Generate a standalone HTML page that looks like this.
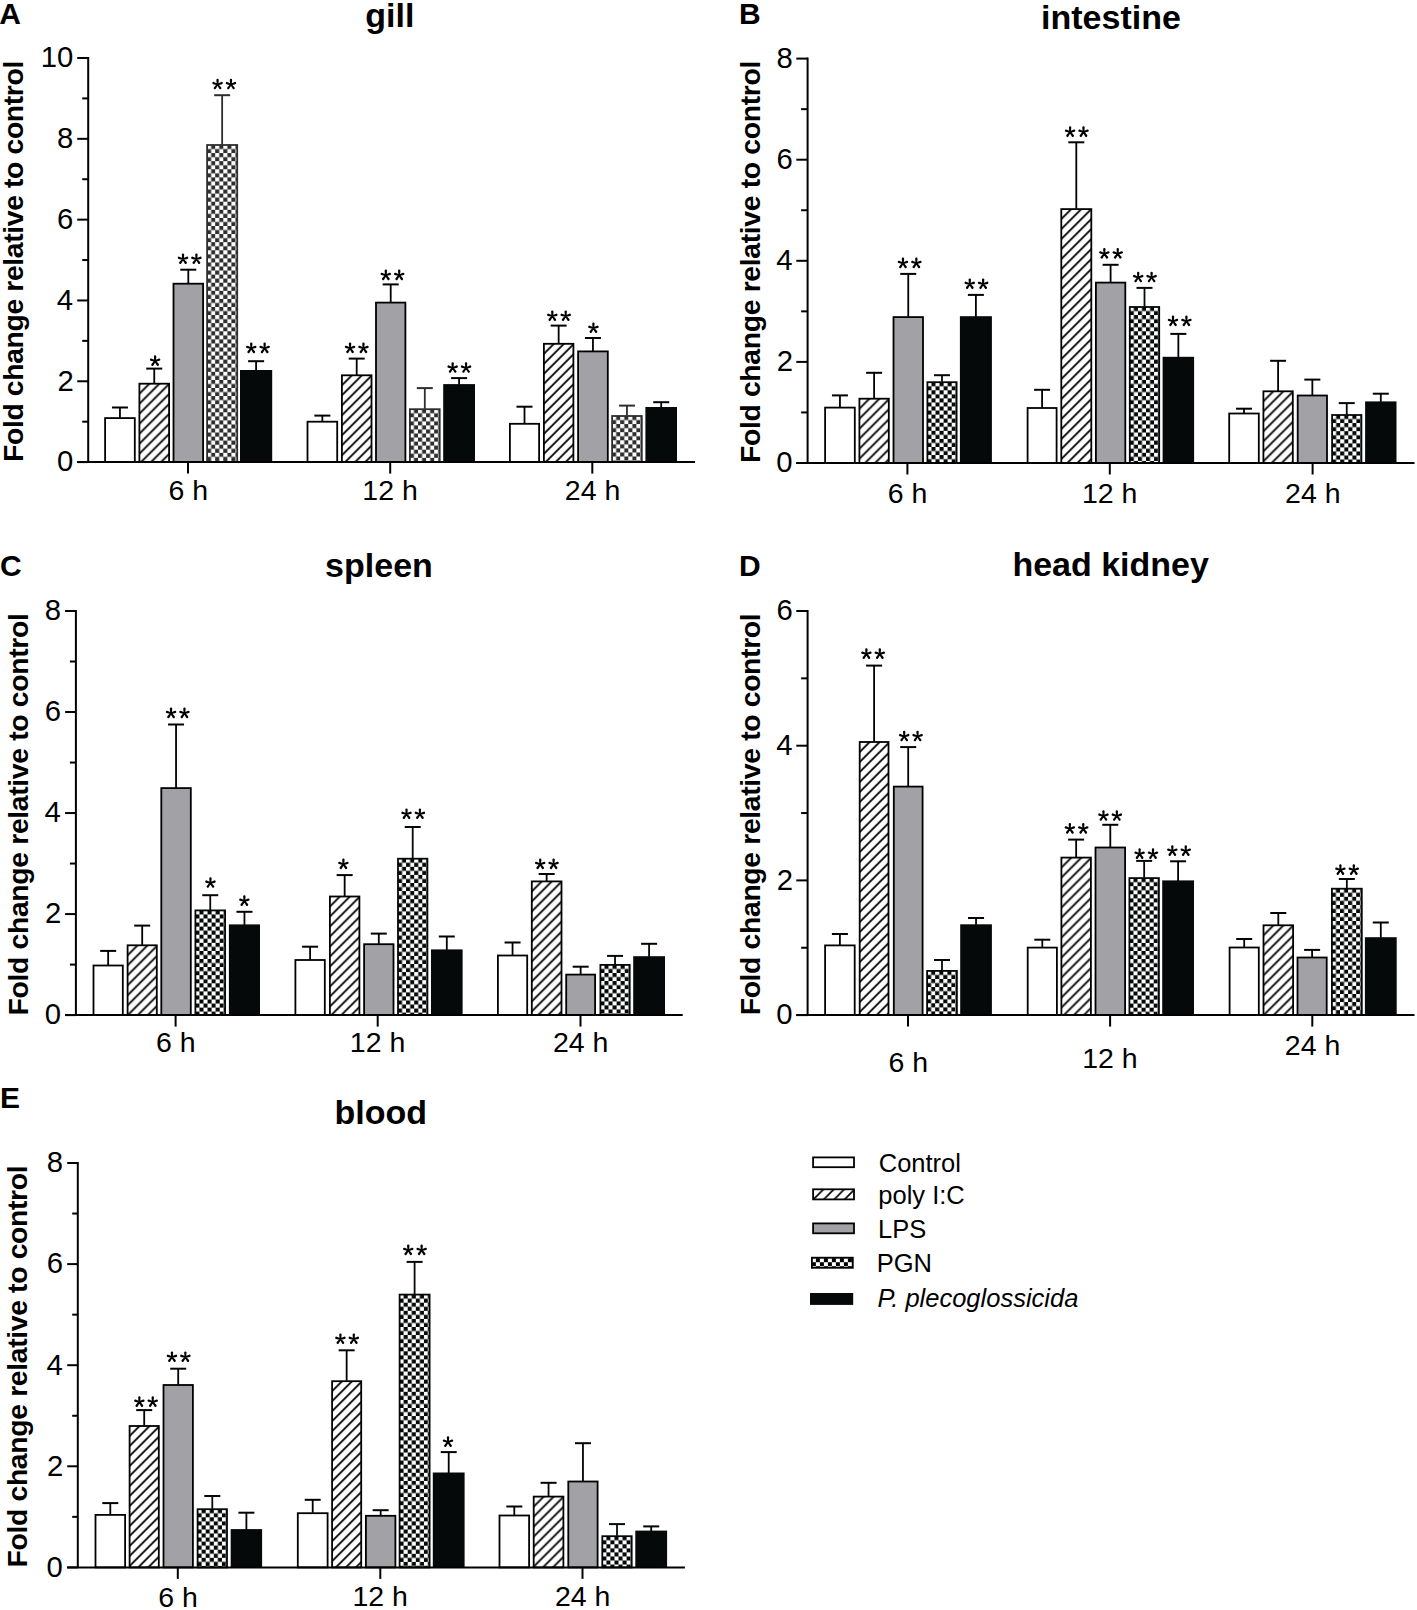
<!DOCTYPE html>
<html><head><meta charset="utf-8"><style>
html,body{margin:0;padding:0;background:#fff;}
body{width:1417px;height:1610px;overflow:hidden;}
svg{display:block;font-family:"Liberation Sans",sans-serif;}
</style></head><body>
<svg width="1417" height="1610" viewBox="0 0 1417 1610">
<defs>
<pattern id="h1" patternUnits="userSpaceOnUse" x="139.40" y="383.70" width="10.0" height="10.0"><path d="M-5.0,5.0 L5.0,-5.0 M0,10.0 L10.0,0 M5.0,15.0 L15.0,5.0" stroke="#000" stroke-width="1.8"/></pattern>
<pattern id="c2" patternUnits="userSpaceOnUse" x="207.10" y="145.00" width="8.1" height="8.1"><rect width="8.1" height="8.1" fill="#fff"/><rect x="4.05" y="0" width="4.05" height="4.05" fill="#2e2e2e"/><rect x="0" y="4.05" width="4.05" height="4.05" fill="#2e2e2e"/></pattern>
<pattern id="h3" patternUnits="userSpaceOnUse" x="341.90" y="375.30" width="10.0" height="10.0"><path d="M-5.0,5.0 L5.0,-5.0 M0,10.0 L10.0,0 M5.0,15.0 L15.0,5.0" stroke="#000" stroke-width="1.8"/></pattern>
<pattern id="c4" patternUnits="userSpaceOnUse" x="409.90" y="409.20" width="8.1" height="8.1"><rect width="8.1" height="8.1" fill="#fff"/><rect x="4.05" y="0" width="4.05" height="4.05" fill="#2e2e2e"/><rect x="0" y="4.05" width="4.05" height="4.05" fill="#2e2e2e"/></pattern>
<pattern id="h5" patternUnits="userSpaceOnUse" x="543.90" y="343.80" width="10.0" height="10.0"><path d="M-5.0,5.0 L5.0,-5.0 M0,10.0 L10.0,0 M5.0,15.0 L15.0,5.0" stroke="#000" stroke-width="1.8"/></pattern>
<pattern id="c6" patternUnits="userSpaceOnUse" x="612.10" y="416.00" width="8.1" height="8.1"><rect width="8.1" height="8.1" fill="#fff"/><rect x="4.05" y="0" width="4.05" height="4.05" fill="#2e2e2e"/><rect x="0" y="4.05" width="4.05" height="4.05" fill="#2e2e2e"/></pattern>
<pattern id="h7" patternUnits="userSpaceOnUse" x="859.40" y="398.70" width="10.0" height="10.0"><path d="M-5.0,5.0 L5.0,-5.0 M0,10.0 L10.0,0 M5.0,15.0 L15.0,5.0" stroke="#000" stroke-width="1.8"/></pattern>
<pattern id="c8" patternUnits="userSpaceOnUse" x="927.40" y="382.20" width="8.1" height="8.1"><rect width="8.1" height="8.1" fill="#fff"/><rect x="4.05" y="0" width="4.05" height="4.05" fill="#050808"/><rect x="0" y="4.05" width="4.05" height="4.05" fill="#050808"/></pattern>
<pattern id="h9" patternUnits="userSpaceOnUse" x="1061.30" y="209.10" width="10.0" height="10.0"><path d="M-5.0,5.0 L5.0,-5.0 M0,10.0 L10.0,0 M5.0,15.0 L15.0,5.0" stroke="#000" stroke-width="1.8"/></pattern>
<pattern id="c10" patternUnits="userSpaceOnUse" x="1129.80" y="307.00" width="8.1" height="8.1"><rect width="8.1" height="8.1" fill="#fff"/><rect x="4.05" y="0" width="4.05" height="4.05" fill="#050808"/><rect x="0" y="4.05" width="4.05" height="4.05" fill="#050808"/></pattern>
<pattern id="h11" patternUnits="userSpaceOnUse" x="1263.40" y="391.30" width="10.0" height="10.0"><path d="M-5.0,5.0 L5.0,-5.0 M0,10.0 L10.0,0 M5.0,15.0 L15.0,5.0" stroke="#000" stroke-width="1.8"/></pattern>
<pattern id="c12" patternUnits="userSpaceOnUse" x="1332.10" y="415.00" width="8.1" height="8.1"><rect width="8.1" height="8.1" fill="#fff"/><rect x="4.05" y="0" width="4.05" height="4.05" fill="#050808"/><rect x="0" y="4.05" width="4.05" height="4.05" fill="#050808"/></pattern>
<pattern id="h13" patternUnits="userSpaceOnUse" x="127.60" y="945.30" width="10.0" height="10.0"><path d="M-5.0,5.0 L5.0,-5.0 M0,10.0 L10.0,0 M5.0,15.0 L15.0,5.0" stroke="#000" stroke-width="1.8"/></pattern>
<pattern id="c14" patternUnits="userSpaceOnUse" x="195.40" y="910.40" width="8.1" height="8.1"><rect width="8.1" height="8.1" fill="#fff"/><rect x="4.05" y="0" width="4.05" height="4.05" fill="#050808"/><rect x="0" y="4.05" width="4.05" height="4.05" fill="#050808"/></pattern>
<pattern id="h15" patternUnits="userSpaceOnUse" x="329.90" y="896.50" width="10.0" height="10.0"><path d="M-5.0,5.0 L5.0,-5.0 M0,10.0 L10.0,0 M5.0,15.0 L15.0,5.0" stroke="#000" stroke-width="1.8"/></pattern>
<pattern id="c16" patternUnits="userSpaceOnUse" x="398.00" y="858.70" width="8.1" height="8.1"><rect width="8.1" height="8.1" fill="#fff"/><rect x="4.05" y="0" width="4.05" height="4.05" fill="#050808"/><rect x="0" y="4.05" width="4.05" height="4.05" fill="#050808"/></pattern>
<pattern id="h17" patternUnits="userSpaceOnUse" x="531.80" y="881.40" width="10.0" height="10.0"><path d="M-5.0,5.0 L5.0,-5.0 M0,10.0 L10.0,0 M5.0,15.0 L15.0,5.0" stroke="#000" stroke-width="1.8"/></pattern>
<pattern id="c18" patternUnits="userSpaceOnUse" x="600.40" y="964.90" width="8.1" height="8.1"><rect width="8.1" height="8.1" fill="#fff"/><rect x="4.05" y="0" width="4.05" height="4.05" fill="#050808"/><rect x="0" y="4.05" width="4.05" height="4.05" fill="#050808"/></pattern>
<pattern id="h19" patternUnits="userSpaceOnUse" x="859.70" y="742.00" width="10.0" height="10.0"><path d="M-5.0,5.0 L5.0,-5.0 M0,10.0 L10.0,0 M5.0,15.0 L15.0,5.0" stroke="#000" stroke-width="1.8"/></pattern>
<pattern id="c20" patternUnits="userSpaceOnUse" x="927.10" y="970.90" width="8.1" height="8.1"><rect width="8.1" height="8.1" fill="#fff"/><rect x="4.05" y="0" width="4.05" height="4.05" fill="#050808"/><rect x="0" y="4.05" width="4.05" height="4.05" fill="#050808"/></pattern>
<pattern id="h21" patternUnits="userSpaceOnUse" x="1061.40" y="857.60" width="10.0" height="10.0"><path d="M-5.0,5.0 L5.0,-5.0 M0,10.0 L10.0,0 M5.0,15.0 L15.0,5.0" stroke="#000" stroke-width="1.8"/></pattern>
<pattern id="c22" patternUnits="userSpaceOnUse" x="1129.40" y="878.10" width="8.1" height="8.1"><rect width="8.1" height="8.1" fill="#fff"/><rect x="4.05" y="0" width="4.05" height="4.05" fill="#050808"/><rect x="0" y="4.05" width="4.05" height="4.05" fill="#050808"/></pattern>
<pattern id="h23" patternUnits="userSpaceOnUse" x="1263.50" y="925.30" width="10.0" height="10.0"><path d="M-5.0,5.0 L5.0,-5.0 M0,10.0 L10.0,0 M5.0,15.0 L15.0,5.0" stroke="#000" stroke-width="1.8"/></pattern>
<pattern id="c24" patternUnits="userSpaceOnUse" x="1331.90" y="888.70" width="8.1" height="8.1"><rect width="8.1" height="8.1" fill="#fff"/><rect x="4.05" y="0" width="4.05" height="4.05" fill="#050808"/><rect x="0" y="4.05" width="4.05" height="4.05" fill="#050808"/></pattern>
<pattern id="h25" patternUnits="userSpaceOnUse" x="129.60" y="1426.00" width="10.0" height="10.0"><path d="M-5.0,5.0 L5.0,-5.0 M0,10.0 L10.0,0 M5.0,15.0 L15.0,5.0" stroke="#000" stroke-width="1.8"/></pattern>
<pattern id="c26" patternUnits="userSpaceOnUse" x="197.60" y="1509.20" width="8.1" height="8.1"><rect width="8.1" height="8.1" fill="#fff"/><rect x="4.05" y="0" width="4.05" height="4.05" fill="#050808"/><rect x="0" y="4.05" width="4.05" height="4.05" fill="#050808"/></pattern>
<pattern id="h27" patternUnits="userSpaceOnUse" x="332.10" y="1381.20" width="10.0" height="10.0"><path d="M-5.0,5.0 L5.0,-5.0 M0,10.0 L10.0,0 M5.0,15.0 L15.0,5.0" stroke="#000" stroke-width="1.8"/></pattern>
<pattern id="c28" patternUnits="userSpaceOnUse" x="399.60" y="1294.60" width="8.1" height="8.1"><rect width="8.1" height="8.1" fill="#fff"/><rect x="4.05" y="0" width="4.05" height="4.05" fill="#050808"/><rect x="0" y="4.05" width="4.05" height="4.05" fill="#050808"/></pattern>
<pattern id="h29" patternUnits="userSpaceOnUse" x="533.70" y="1496.60" width="10.0" height="10.0"><path d="M-5.0,5.0 L5.0,-5.0 M0,10.0 L10.0,0 M5.0,15.0 L15.0,5.0" stroke="#000" stroke-width="1.8"/></pattern>
<pattern id="c30" patternUnits="userSpaceOnUse" x="602.30" y="1536.20" width="8.1" height="8.1"><rect width="8.1" height="8.1" fill="#fff"/><rect x="4.05" y="0" width="4.05" height="4.05" fill="#050808"/><rect x="0" y="4.05" width="4.05" height="4.05" fill="#050808"/></pattern>
<pattern id="h31" patternUnits="userSpaceOnUse" x="813.10" y="1189.30" width="10.4" height="10.4"><path d="M-5.2,5.2 L5.2,-5.2 M0,10.4 L10.4,0 M5.2,15.600000000000001 L15.600000000000001,5.2" stroke="#000" stroke-width="1.7"/></pattern>
<pattern id="c32" patternUnits="userSpaceOnUse" x="811.90" y="1258.20" width="8" height="8"><rect width="8" height="8" fill="#fff"/><rect x="4" y="0" width="4" height="4" fill="#000"/><rect x="0" y="4" width="4" height="4" fill="#000"/></pattern>
</defs>
<rect width="1417" height="1610" fill="#fff"/>
<rect x="105.10" y="418.10" width="29.70" height="44.00" fill="#fff" stroke="#000" stroke-width="1.8"/>
<rect x="139.40" y="383.70" width="29.70" height="78.40" fill="url(#h1)" stroke="#000" stroke-width="1.8"/>
<rect x="173.50" y="283.70" width="29.60" height="178.40" fill="#a2a1a6" stroke="#000" stroke-width="1.8"/>
<rect x="207.10" y="145.00" width="30.10" height="317.10" fill="url(#c2)" stroke="#2e2e2e" stroke-width="1.8"/>
<rect x="240.00" y="370.00" width="32.20" height="92.10" fill="#060909"/>
<rect x="307.50" y="421.70" width="29.70" height="40.40" fill="#fff" stroke="#000" stroke-width="1.8"/>
<rect x="341.90" y="375.30" width="29.60" height="86.80" fill="url(#h3)" stroke="#000" stroke-width="1.8"/>
<rect x="376.00" y="302.60" width="29.40" height="159.50" fill="#a2a1a6" stroke="#000" stroke-width="1.8"/>
<rect x="409.90" y="409.20" width="29.80" height="52.90" fill="url(#c4)" stroke="#2e2e2e" stroke-width="1.8"/>
<rect x="443.20" y="384.10" width="31.80" height="78.00" fill="#060909"/>
<rect x="509.90" y="423.80" width="29.20" height="38.30" fill="#fff" stroke="#000" stroke-width="1.8"/>
<rect x="543.90" y="343.80" width="29.50" height="118.30" fill="url(#h5)" stroke="#000" stroke-width="1.8"/>
<rect x="578.10" y="351.40" width="29.70" height="110.70" fill="#a2a1a6" stroke="#000" stroke-width="1.8"/>
<rect x="612.10" y="416.00" width="29.70" height="46.10" fill="url(#c6)" stroke="#2e2e2e" stroke-width="1.8"/>
<rect x="645.40" y="407.00" width="31.60" height="55.10" fill="#060909"/>
<line x1="119.95" y1="417.70" x2="119.95" y2="407.50" stroke="#000" stroke-width="1.8"/>
<line x1="111.95" y1="407.50" x2="127.95" y2="407.50" stroke="#000" stroke-width="2.0"/>
<line x1="154.25" y1="383.30" x2="154.25" y2="368.60" stroke="#000" stroke-width="1.8"/>
<line x1="146.25" y1="368.60" x2="162.25" y2="368.60" stroke="#000" stroke-width="2.0"/>
<path d="M155.90,361.00L156.30,356.50A1.2,1.2 0 0 0 153.90,356.50L154.30,361.00ZM155.35,361.76L159.56,360.81A1.2,1.2 0 0 0 158.82,358.53L154.85,360.24ZM155.35,360.24L151.38,358.53A1.2,1.2 0 0 0 150.64,360.81L154.85,361.76ZM154.45,361.47L156.83,365.43A1.2,1.2 0 0 0 158.77,364.02L155.75,360.53ZM154.45,360.53L151.43,364.02A1.2,1.2 0 0 0 153.37,365.43L155.75,361.47Z" fill="#000"/>
<line x1="188.30" y1="283.30" x2="188.30" y2="269.70" stroke="#000" stroke-width="1.8"/>
<line x1="180.30" y1="269.70" x2="196.30" y2="269.70" stroke="#000" stroke-width="2.0"/>
<path d="M183.80,259.10L184.20,254.60A1.2,1.2 0 0 0 181.80,254.60L182.20,259.10ZM183.25,259.86L187.46,258.91A1.2,1.2 0 0 0 186.72,256.63L182.75,258.34ZM183.25,258.34L179.28,256.63A1.2,1.2 0 0 0 178.54,258.91L182.75,259.86ZM182.35,259.57L184.73,263.53A1.2,1.2 0 0 0 186.67,262.12L183.65,258.63ZM182.35,258.63L179.33,262.12A1.2,1.2 0 0 0 181.27,263.53L183.65,259.57ZM197.20,259.10L197.60,254.60A1.2,1.2 0 0 0 195.20,254.60L195.60,259.10ZM196.65,259.86L200.86,258.91A1.2,1.2 0 0 0 200.12,256.63L196.15,258.34ZM196.65,258.34L192.68,256.63A1.2,1.2 0 0 0 191.94,258.91L196.15,259.86ZM195.75,259.57L198.13,263.53A1.2,1.2 0 0 0 200.07,262.12L197.05,258.63ZM195.75,258.63L192.73,262.12A1.2,1.2 0 0 0 194.67,263.53L197.05,259.57Z" fill="#000"/>
<line x1="222.15" y1="144.60" x2="222.15" y2="95.20" stroke="#2e2e2e" stroke-width="1.8"/>
<line x1="214.15" y1="95.20" x2="230.15" y2="95.20" stroke="#2e2e2e" stroke-width="2.0"/>
<path d="M218.35,84.40L218.75,79.90A1.2,1.2 0 0 0 216.35,79.90L216.75,84.40ZM217.80,85.16L222.01,84.21A1.2,1.2 0 0 0 221.27,81.93L217.30,83.64ZM217.80,83.64L213.83,81.93A1.2,1.2 0 0 0 213.09,84.21L217.30,85.16ZM216.90,84.87L219.28,88.83A1.2,1.2 0 0 0 221.22,87.42L218.20,83.93ZM216.90,83.93L213.88,87.42A1.2,1.2 0 0 0 215.82,88.83L218.20,84.87ZM231.75,84.40L232.15,79.90A1.2,1.2 0 0 0 229.75,79.90L230.15,84.40ZM231.20,85.16L235.41,84.21A1.2,1.2 0 0 0 234.67,81.93L230.70,83.64ZM231.20,83.64L227.23,81.93A1.2,1.2 0 0 0 226.49,84.21L230.70,85.16ZM230.30,84.87L232.68,88.83A1.2,1.2 0 0 0 234.62,87.42L231.60,83.93ZM230.30,83.93L227.28,87.42A1.2,1.2 0 0 0 229.22,88.83L231.60,84.87Z" fill="#000"/>
<line x1="256.10" y1="370.50" x2="256.10" y2="361.20" stroke="#000" stroke-width="1.8"/>
<line x1="248.10" y1="361.20" x2="264.10" y2="361.20" stroke="#000" stroke-width="2.0"/>
<path d="M252.05,348.30L252.45,343.80A1.2,1.2 0 0 0 250.05,343.80L250.45,348.30ZM251.50,349.06L255.71,348.11A1.2,1.2 0 0 0 254.97,345.83L251.00,347.54ZM251.50,347.54L247.53,345.83A1.2,1.2 0 0 0 246.79,348.11L251.00,349.06ZM250.60,348.77L252.98,352.73A1.2,1.2 0 0 0 254.92,351.32L251.90,347.83ZM250.60,347.83L247.58,351.32A1.2,1.2 0 0 0 249.52,352.73L251.90,348.77ZM265.45,348.30L265.85,343.80A1.2,1.2 0 0 0 263.45,343.80L263.85,348.30ZM264.90,349.06L269.11,348.11A1.2,1.2 0 0 0 268.37,345.83L264.40,347.54ZM264.90,347.54L260.93,345.83A1.2,1.2 0 0 0 260.19,348.11L264.40,349.06ZM264.00,348.77L266.38,352.73A1.2,1.2 0 0 0 268.32,351.32L265.30,347.83ZM264.00,347.83L260.98,351.32A1.2,1.2 0 0 0 262.92,352.73L265.30,348.77Z" fill="#000"/>
<line x1="322.35" y1="421.30" x2="322.35" y2="415.60" stroke="#000" stroke-width="1.8"/>
<line x1="314.35" y1="415.60" x2="330.35" y2="415.60" stroke="#000" stroke-width="2.0"/>
<line x1="356.70" y1="374.90" x2="356.70" y2="358.60" stroke="#000" stroke-width="1.8"/>
<line x1="348.70" y1="358.60" x2="364.70" y2="358.60" stroke="#000" stroke-width="2.0"/>
<path d="M350.85,348.20L351.25,343.70A1.2,1.2 0 0 0 348.85,343.70L349.25,348.20ZM350.30,348.96L354.51,348.01A1.2,1.2 0 0 0 353.77,345.73L349.80,347.44ZM350.30,347.44L346.33,345.73A1.2,1.2 0 0 0 345.59,348.01L349.80,348.96ZM349.40,348.67L351.78,352.63A1.2,1.2 0 0 0 353.72,351.22L350.70,347.73ZM349.40,347.73L346.38,351.22A1.2,1.2 0 0 0 348.32,352.63L350.70,348.67ZM364.25,348.20L364.65,343.70A1.2,1.2 0 0 0 362.25,343.70L362.65,348.20ZM363.70,348.96L367.91,348.01A1.2,1.2 0 0 0 367.17,345.73L363.20,347.44ZM363.70,347.44L359.73,345.73A1.2,1.2 0 0 0 358.99,348.01L363.20,348.96ZM362.80,348.67L365.18,352.63A1.2,1.2 0 0 0 367.12,351.22L364.10,347.73ZM362.80,347.73L359.78,351.22A1.2,1.2 0 0 0 361.72,352.63L364.10,348.67Z" fill="#000"/>
<line x1="390.70" y1="302.20" x2="390.70" y2="284.40" stroke="#000" stroke-width="1.8"/>
<line x1="382.70" y1="284.40" x2="398.70" y2="284.40" stroke="#000" stroke-width="2.0"/>
<path d="M386.60,275.30L387.00,270.80A1.2,1.2 0 0 0 384.60,270.80L385.00,275.30ZM386.05,276.06L390.26,275.11A1.2,1.2 0 0 0 389.52,272.83L385.55,274.54ZM386.05,274.54L382.08,272.83A1.2,1.2 0 0 0 381.34,275.11L385.55,276.06ZM385.15,275.77L387.53,279.73A1.2,1.2 0 0 0 389.47,278.32L386.45,274.83ZM385.15,274.83L382.13,278.32A1.2,1.2 0 0 0 384.07,279.73L386.45,275.77ZM400.00,275.30L400.40,270.80A1.2,1.2 0 0 0 398.00,270.80L398.40,275.30ZM399.45,276.06L403.66,275.11A1.2,1.2 0 0 0 402.92,272.83L398.95,274.54ZM399.45,274.54L395.48,272.83A1.2,1.2 0 0 0 394.74,275.11L398.95,276.06ZM398.55,275.77L400.93,279.73A1.2,1.2 0 0 0 402.87,278.32L399.85,274.83ZM398.55,274.83L395.53,278.32A1.2,1.2 0 0 0 397.47,279.73L399.85,275.77Z" fill="#000"/>
<line x1="424.80" y1="408.80" x2="424.80" y2="388.10" stroke="#2e2e2e" stroke-width="1.8"/>
<line x1="416.80" y1="388.10" x2="432.80" y2="388.10" stroke="#2e2e2e" stroke-width="2.0"/>
<line x1="459.10" y1="384.60" x2="459.10" y2="378.10" stroke="#000" stroke-width="1.8"/>
<line x1="451.10" y1="378.10" x2="467.10" y2="378.10" stroke="#000" stroke-width="2.0"/>
<path d="M453.45,367.90L453.85,363.40A1.2,1.2 0 0 0 451.45,363.40L451.85,367.90ZM452.90,368.66L457.11,367.71A1.2,1.2 0 0 0 456.37,365.43L452.40,367.14ZM452.90,367.14L448.93,365.43A1.2,1.2 0 0 0 448.19,367.71L452.40,368.66ZM452.00,368.37L454.38,372.33A1.2,1.2 0 0 0 456.32,370.92L453.30,367.43ZM452.00,367.43L448.98,370.92A1.2,1.2 0 0 0 450.92,372.33L453.30,368.37ZM466.85,367.90L467.25,363.40A1.2,1.2 0 0 0 464.85,363.40L465.25,367.90ZM466.30,368.66L470.51,367.71A1.2,1.2 0 0 0 469.77,365.43L465.80,367.14ZM466.30,367.14L462.33,365.43A1.2,1.2 0 0 0 461.59,367.71L465.80,368.66ZM465.40,368.37L467.78,372.33A1.2,1.2 0 0 0 469.72,370.92L466.70,367.43ZM465.40,367.43L462.38,370.92A1.2,1.2 0 0 0 464.32,372.33L466.70,368.37Z" fill="#000"/>
<line x1="524.50" y1="423.40" x2="524.50" y2="406.70" stroke="#000" stroke-width="1.8"/>
<line x1="516.50" y1="406.70" x2="532.50" y2="406.70" stroke="#000" stroke-width="2.0"/>
<line x1="558.65" y1="343.40" x2="558.65" y2="325.60" stroke="#000" stroke-width="1.8"/>
<line x1="550.65" y1="325.60" x2="566.65" y2="325.60" stroke="#000" stroke-width="2.0"/>
<path d="M553.10,316.10L553.50,311.60A1.2,1.2 0 0 0 551.10,311.60L551.50,316.10ZM552.55,316.86L556.76,315.91A1.2,1.2 0 0 0 556.02,313.63L552.05,315.34ZM552.55,315.34L548.58,313.63A1.2,1.2 0 0 0 547.84,315.91L552.05,316.86ZM551.65,316.57L554.03,320.53A1.2,1.2 0 0 0 555.97,319.12L552.95,315.63ZM551.65,315.63L548.63,319.12A1.2,1.2 0 0 0 550.57,320.53L552.95,316.57ZM566.50,316.10L566.90,311.60A1.2,1.2 0 0 0 564.50,311.60L564.90,316.10ZM565.95,316.86L570.16,315.91A1.2,1.2 0 0 0 569.42,313.63L565.45,315.34ZM565.95,315.34L561.98,313.63A1.2,1.2 0 0 0 561.24,315.91L565.45,316.86ZM565.05,316.57L567.43,320.53A1.2,1.2 0 0 0 569.37,319.12L566.35,315.63ZM565.05,315.63L562.03,319.12A1.2,1.2 0 0 0 563.97,320.53L566.35,316.57Z" fill="#000"/>
<line x1="592.95" y1="351.00" x2="592.95" y2="338.00" stroke="#000" stroke-width="1.8"/>
<line x1="584.95" y1="338.00" x2="600.95" y2="338.00" stroke="#000" stroke-width="2.0"/>
<path d="M594.20,328.10L594.60,323.60A1.2,1.2 0 0 0 592.20,323.60L592.60,328.10ZM593.65,328.86L597.86,327.91A1.2,1.2 0 0 0 597.12,325.63L593.15,327.34ZM593.65,327.34L589.68,325.63A1.2,1.2 0 0 0 588.94,327.91L593.15,328.86ZM592.75,328.57L595.13,332.53A1.2,1.2 0 0 0 597.07,331.12L594.05,327.63ZM592.75,327.63L589.73,331.12A1.2,1.2 0 0 0 591.67,332.53L594.05,328.57Z" fill="#000"/>
<line x1="626.95" y1="415.60" x2="626.95" y2="405.60" stroke="#2e2e2e" stroke-width="1.8"/>
<line x1="618.95" y1="405.60" x2="634.95" y2="405.60" stroke="#2e2e2e" stroke-width="2.0"/>
<line x1="661.20" y1="407.50" x2="661.20" y2="402.20" stroke="#000" stroke-width="1.8"/>
<line x1="653.20" y1="402.20" x2="669.20" y2="402.20" stroke="#000" stroke-width="2.0"/>
<line x1="88.20" y1="57.00" x2="88.20" y2="462.10" stroke="#000" stroke-width="2.0"/>
<line x1="77.20" y1="462.10" x2="695.00" y2="462.10" stroke="#000" stroke-width="2.0"/>
<line x1="77.20" y1="462.10" x2="88.20" y2="462.10" stroke="#000" stroke-width="2.0"/>
<text x="56.96" y="471.40" font-size="29.3" font-weight="normal" font-style="normal" text-anchor="start" >0</text>
<line x1="82.20" y1="421.69" x2="88.20" y2="421.69" stroke="#000" stroke-width="2.0"/>
<line x1="77.20" y1="381.28" x2="88.20" y2="381.28" stroke="#000" stroke-width="2.0"/>
<text x="57.40" y="390.58" font-size="29.3" font-weight="normal" font-style="normal" text-anchor="start" >2</text>
<line x1="82.20" y1="340.87" x2="88.20" y2="340.87" stroke="#000" stroke-width="2.0"/>
<line x1="77.20" y1="300.46" x2="88.20" y2="300.46" stroke="#000" stroke-width="2.0"/>
<text x="56.82" y="309.76" font-size="29.3" font-weight="normal" font-style="normal" text-anchor="start" >4</text>
<line x1="82.20" y1="260.05" x2="88.20" y2="260.05" stroke="#000" stroke-width="2.0"/>
<line x1="77.20" y1="219.64" x2="88.20" y2="219.64" stroke="#000" stroke-width="2.0"/>
<text x="57.11" y="228.94" font-size="29.3" font-weight="normal" font-style="normal" text-anchor="start" >6</text>
<line x1="82.20" y1="179.23" x2="88.20" y2="179.23" stroke="#000" stroke-width="2.0"/>
<line x1="77.20" y1="138.82" x2="88.20" y2="138.82" stroke="#000" stroke-width="2.0"/>
<text x="57.11" y="148.12" font-size="29.3" font-weight="normal" font-style="normal" text-anchor="start" >8</text>
<line x1="82.20" y1="98.41" x2="88.20" y2="98.41" stroke="#000" stroke-width="2.0"/>
<line x1="77.20" y1="58.00" x2="88.20" y2="58.00" stroke="#000" stroke-width="2.0"/>
<text x="40.70" y="67.30" font-size="29.3" font-weight="normal" font-style="normal" text-anchor="start" >10</text>
<line x1="188.00" y1="462.10" x2="188.00" y2="473.60" stroke="#000" stroke-width="2.0"/>
<text x="168.41" y="500.40" font-size="28.5" font-weight="normal" font-style="normal" text-anchor="start" >6 h</text>
<line x1="390.20" y1="462.10" x2="390.20" y2="473.60" stroke="#000" stroke-width="2.0"/>
<text x="362.34" y="500.40" font-size="28.5" font-weight="normal" font-style="normal" text-anchor="start" >12 h</text>
<line x1="592.30" y1="462.10" x2="592.30" y2="473.60" stroke="#000" stroke-width="2.0"/>
<text x="564.80" y="500.40" font-size="28.5" font-weight="normal" font-style="normal" text-anchor="start" >24 h</text>
<text transform="translate(23.20,461.90) rotate(-90)" x="0" y="0" font-size="28.4" font-weight="bold" textLength="401.2" lengthAdjust="spacing">Fold change relative to control</text>
<text x="365.30" y="26.90" font-size="34" font-weight="bold" font-style="normal" text-anchor="start" >gill</text>
<text x="-0.75" y="24.30" font-size="30" font-weight="bold" font-style="normal" text-anchor="start" >A</text>
<rect x="825.10" y="407.60" width="29.70" height="55.40" fill="#fff" stroke="#000" stroke-width="1.8"/>
<rect x="859.40" y="398.70" width="29.40" height="64.30" fill="url(#h7)" stroke="#000" stroke-width="1.8"/>
<rect x="893.50" y="317.10" width="29.50" height="145.90" fill="#a2a1a6" stroke="#000" stroke-width="1.8"/>
<rect x="927.40" y="382.20" width="29.20" height="80.80" fill="url(#c8)" stroke="#050808" stroke-width="1.8"/>
<rect x="959.90" y="316.20" width="32.00" height="146.80" fill="#060909"/>
<rect x="1027.60" y="408.00" width="29.00" height="55.00" fill="#fff" stroke="#000" stroke-width="1.8"/>
<rect x="1061.30" y="209.10" width="30.00" height="253.90" fill="url(#h9)" stroke="#000" stroke-width="1.8"/>
<rect x="1095.90" y="282.60" width="29.40" height="180.40" fill="#a2a1a6" stroke="#000" stroke-width="1.8"/>
<rect x="1129.80" y="307.00" width="29.40" height="156.00" fill="url(#c10)" stroke="#050808" stroke-width="1.8"/>
<rect x="1162.60" y="356.80" width="31.50" height="106.20" fill="#060909"/>
<rect x="1229.20" y="413.50" width="29.60" height="49.50" fill="#fff" stroke="#000" stroke-width="1.8"/>
<rect x="1263.40" y="391.30" width="29.40" height="71.70" fill="url(#h11)" stroke="#000" stroke-width="1.8"/>
<rect x="1297.70" y="395.50" width="29.30" height="67.50" fill="#a2a1a6" stroke="#000" stroke-width="1.8"/>
<rect x="1332.10" y="415.00" width="29.30" height="48.00" fill="url(#c12)" stroke="#050808" stroke-width="1.8"/>
<rect x="1365.10" y="401.40" width="31.40" height="61.60" fill="#060909"/>
<line x1="839.95" y1="407.20" x2="839.95" y2="395.40" stroke="#000" stroke-width="1.8"/>
<line x1="831.95" y1="395.40" x2="847.95" y2="395.40" stroke="#000" stroke-width="2.0"/>
<line x1="874.10" y1="398.30" x2="874.10" y2="372.80" stroke="#000" stroke-width="1.8"/>
<line x1="866.10" y1="372.80" x2="882.10" y2="372.80" stroke="#000" stroke-width="2.0"/>
<line x1="908.25" y1="316.70" x2="908.25" y2="273.90" stroke="#000" stroke-width="1.8"/>
<line x1="900.25" y1="273.90" x2="916.25" y2="273.90" stroke="#000" stroke-width="2.0"/>
<path d="M903.75,263.30L904.15,258.80A1.2,1.2 0 0 0 901.75,258.80L902.15,263.30ZM903.20,264.06L907.41,263.11A1.2,1.2 0 0 0 906.67,260.83L902.70,262.54ZM903.20,262.54L899.23,260.83A1.2,1.2 0 0 0 898.49,263.11L902.70,264.06ZM902.30,263.77L904.68,267.73A1.2,1.2 0 0 0 906.62,266.32L903.60,262.83ZM902.30,262.83L899.28,266.32A1.2,1.2 0 0 0 901.22,267.73L903.60,263.77ZM917.15,263.30L917.55,258.80A1.2,1.2 0 0 0 915.15,258.80L915.55,263.30ZM916.60,264.06L920.81,263.11A1.2,1.2 0 0 0 920.07,260.83L916.10,262.54ZM916.60,262.54L912.63,260.83A1.2,1.2 0 0 0 911.89,263.11L916.10,264.06ZM915.70,263.77L918.08,267.73A1.2,1.2 0 0 0 920.02,266.32L917.00,262.83ZM915.70,262.83L912.68,266.32A1.2,1.2 0 0 0 914.62,267.73L917.00,263.77Z" fill="#000"/>
<line x1="942.00" y1="381.80" x2="942.00" y2="375.20" stroke="#050808" stroke-width="1.8"/>
<line x1="934.00" y1="375.20" x2="950.00" y2="375.20" stroke="#050808" stroke-width="2.0"/>
<line x1="975.90" y1="316.70" x2="975.90" y2="294.90" stroke="#000" stroke-width="1.8"/>
<line x1="967.90" y1="294.90" x2="983.90" y2="294.90" stroke="#000" stroke-width="2.0"/>
<path d="M970.55,284.10L970.95,279.60A1.2,1.2 0 0 0 968.55,279.60L968.95,284.10ZM970.00,284.86L974.21,283.91A1.2,1.2 0 0 0 973.47,281.63L969.50,283.34ZM970.00,283.34L966.03,281.63A1.2,1.2 0 0 0 965.29,283.91L969.50,284.86ZM969.10,284.57L971.48,288.53A1.2,1.2 0 0 0 973.42,287.12L970.40,283.63ZM969.10,283.63L966.08,287.12A1.2,1.2 0 0 0 968.02,288.53L970.40,284.57ZM983.95,284.10L984.35,279.60A1.2,1.2 0 0 0 981.95,279.60L982.35,284.10ZM983.40,284.86L987.61,283.91A1.2,1.2 0 0 0 986.87,281.63L982.90,283.34ZM983.40,283.34L979.43,281.63A1.2,1.2 0 0 0 978.69,283.91L982.90,284.86ZM982.50,284.57L984.88,288.53A1.2,1.2 0 0 0 986.82,287.12L983.80,283.63ZM982.50,283.63L979.48,287.12A1.2,1.2 0 0 0 981.42,288.53L983.80,284.57Z" fill="#000"/>
<line x1="1042.10" y1="407.60" x2="1042.10" y2="389.80" stroke="#000" stroke-width="1.8"/>
<line x1="1034.10" y1="389.80" x2="1050.10" y2="389.80" stroke="#000" stroke-width="2.0"/>
<line x1="1076.30" y1="208.70" x2="1076.30" y2="142.30" stroke="#000" stroke-width="1.8"/>
<line x1="1068.30" y1="142.30" x2="1084.30" y2="142.30" stroke="#000" stroke-width="2.0"/>
<path d="M1070.90,132.00L1071.30,127.50A1.2,1.2 0 0 0 1068.90,127.50L1069.30,132.00ZM1070.35,132.76L1074.56,131.81A1.2,1.2 0 0 0 1073.82,129.53L1069.85,131.24ZM1070.35,131.24L1066.38,129.53A1.2,1.2 0 0 0 1065.64,131.81L1069.85,132.76ZM1069.45,132.47L1071.83,136.43A1.2,1.2 0 0 0 1073.77,135.02L1070.75,131.53ZM1069.45,131.53L1066.43,135.02A1.2,1.2 0 0 0 1068.37,136.43L1070.75,132.47ZM1084.30,132.00L1084.70,127.50A1.2,1.2 0 0 0 1082.30,127.50L1082.70,132.00ZM1083.75,132.76L1087.96,131.81A1.2,1.2 0 0 0 1087.22,129.53L1083.25,131.24ZM1083.75,131.24L1079.78,129.53A1.2,1.2 0 0 0 1079.04,131.81L1083.25,132.76ZM1082.85,132.47L1085.23,136.43A1.2,1.2 0 0 0 1087.17,135.02L1084.15,131.53ZM1082.85,131.53L1079.83,135.02A1.2,1.2 0 0 0 1081.77,136.43L1084.15,132.47Z" fill="#000"/>
<line x1="1110.60" y1="282.20" x2="1110.60" y2="264.80" stroke="#000" stroke-width="1.8"/>
<line x1="1102.60" y1="264.80" x2="1118.60" y2="264.80" stroke="#000" stroke-width="2.0"/>
<path d="M1105.15,253.70L1105.55,249.20A1.2,1.2 0 0 0 1103.15,249.20L1103.55,253.70ZM1104.60,254.46L1108.81,253.51A1.2,1.2 0 0 0 1108.07,251.23L1104.10,252.94ZM1104.60,252.94L1100.63,251.23A1.2,1.2 0 0 0 1099.89,253.51L1104.10,254.46ZM1103.70,254.17L1106.08,258.13A1.2,1.2 0 0 0 1108.02,256.72L1105.00,253.23ZM1103.70,253.23L1100.68,256.72A1.2,1.2 0 0 0 1102.62,258.13L1105.00,254.17ZM1118.55,253.70L1118.95,249.20A1.2,1.2 0 0 0 1116.55,249.20L1116.95,253.70ZM1118.00,254.46L1122.21,253.51A1.2,1.2 0 0 0 1121.47,251.23L1117.50,252.94ZM1118.00,252.94L1114.03,251.23A1.2,1.2 0 0 0 1113.29,253.51L1117.50,254.46ZM1117.10,254.17L1119.48,258.13A1.2,1.2 0 0 0 1121.42,256.72L1118.40,253.23ZM1117.10,253.23L1114.08,256.72A1.2,1.2 0 0 0 1116.02,258.13L1118.40,254.17Z" fill="#000"/>
<line x1="1144.50" y1="306.60" x2="1144.50" y2="287.90" stroke="#050808" stroke-width="1.8"/>
<line x1="1136.50" y1="287.90" x2="1152.50" y2="287.90" stroke="#050808" stroke-width="2.0"/>
<path d="M1139.00,277.40L1139.40,272.90A1.2,1.2 0 0 0 1137.00,272.90L1137.40,277.40ZM1138.45,278.16L1142.66,277.21A1.2,1.2 0 0 0 1141.92,274.93L1137.95,276.64ZM1138.45,276.64L1134.48,274.93A1.2,1.2 0 0 0 1133.74,277.21L1137.95,278.16ZM1137.55,277.87L1139.93,281.83A1.2,1.2 0 0 0 1141.87,280.42L1138.85,276.93ZM1137.55,276.93L1134.53,280.42A1.2,1.2 0 0 0 1136.47,281.83L1138.85,277.87ZM1152.40,277.40L1152.80,272.90A1.2,1.2 0 0 0 1150.40,272.90L1150.80,277.40ZM1151.85,278.16L1156.06,277.21A1.2,1.2 0 0 0 1155.32,274.93L1151.35,276.64ZM1151.85,276.64L1147.88,274.93A1.2,1.2 0 0 0 1147.14,277.21L1151.35,278.16ZM1150.95,277.87L1153.33,281.83A1.2,1.2 0 0 0 1155.27,280.42L1152.25,276.93ZM1150.95,276.93L1147.93,280.42A1.2,1.2 0 0 0 1149.87,281.83L1152.25,277.87Z" fill="#000"/>
<line x1="1178.35" y1="357.30" x2="1178.35" y2="333.90" stroke="#000" stroke-width="1.8"/>
<line x1="1170.35" y1="333.90" x2="1186.35" y2="333.90" stroke="#000" stroke-width="2.0"/>
<path d="M1173.80,321.20L1174.20,316.70A1.2,1.2 0 0 0 1171.80,316.70L1172.20,321.20ZM1173.25,321.96L1177.46,321.01A1.2,1.2 0 0 0 1176.72,318.73L1172.75,320.44ZM1173.25,320.44L1169.28,318.73A1.2,1.2 0 0 0 1168.54,321.01L1172.75,321.96ZM1172.35,321.67L1174.73,325.63A1.2,1.2 0 0 0 1176.67,324.22L1173.65,320.73ZM1172.35,320.73L1169.33,324.22A1.2,1.2 0 0 0 1171.27,325.63L1173.65,321.67ZM1187.20,321.20L1187.60,316.70A1.2,1.2 0 0 0 1185.20,316.70L1185.60,321.20ZM1186.65,321.96L1190.86,321.01A1.2,1.2 0 0 0 1190.12,318.73L1186.15,320.44ZM1186.65,320.44L1182.68,318.73A1.2,1.2 0 0 0 1181.94,321.01L1186.15,321.96ZM1185.75,321.67L1188.13,325.63A1.2,1.2 0 0 0 1190.07,324.22L1187.05,320.73ZM1185.75,320.73L1182.73,324.22A1.2,1.2 0 0 0 1184.67,325.63L1187.05,321.67Z" fill="#000"/>
<line x1="1244.00" y1="413.10" x2="1244.00" y2="408.70" stroke="#000" stroke-width="1.8"/>
<line x1="1236.00" y1="408.70" x2="1252.00" y2="408.70" stroke="#000" stroke-width="2.0"/>
<line x1="1278.10" y1="390.90" x2="1278.10" y2="360.80" stroke="#000" stroke-width="1.8"/>
<line x1="1270.10" y1="360.80" x2="1286.10" y2="360.80" stroke="#000" stroke-width="2.0"/>
<line x1="1312.35" y1="395.10" x2="1312.35" y2="379.60" stroke="#000" stroke-width="1.8"/>
<line x1="1304.35" y1="379.60" x2="1320.35" y2="379.60" stroke="#000" stroke-width="2.0"/>
<line x1="1346.75" y1="414.60" x2="1346.75" y2="403.10" stroke="#050808" stroke-width="1.8"/>
<line x1="1338.75" y1="403.10" x2="1354.75" y2="403.10" stroke="#050808" stroke-width="2.0"/>
<line x1="1380.80" y1="401.90" x2="1380.80" y2="393.70" stroke="#000" stroke-width="1.8"/>
<line x1="1372.80" y1="393.70" x2="1388.80" y2="393.70" stroke="#000" stroke-width="2.0"/>
<line x1="807.60" y1="57.60" x2="807.60" y2="463.00" stroke="#000" stroke-width="2.0"/>
<line x1="796.30" y1="463.00" x2="1414.50" y2="463.00" stroke="#000" stroke-width="2.0"/>
<line x1="796.30" y1="463.00" x2="807.60" y2="463.00" stroke="#000" stroke-width="2.0"/>
<text x="776.36" y="472.30" font-size="29.3" font-weight="normal" font-style="normal" text-anchor="start" >0</text>
<line x1="801.10" y1="412.45" x2="807.60" y2="412.45" stroke="#000" stroke-width="2.0"/>
<line x1="796.30" y1="361.90" x2="807.60" y2="361.90" stroke="#000" stroke-width="2.0"/>
<text x="776.80" y="371.20" font-size="29.3" font-weight="normal" font-style="normal" text-anchor="start" >2</text>
<line x1="801.10" y1="311.35" x2="807.60" y2="311.35" stroke="#000" stroke-width="2.0"/>
<line x1="796.30" y1="260.80" x2="807.60" y2="260.80" stroke="#000" stroke-width="2.0"/>
<text x="776.22" y="270.10" font-size="29.3" font-weight="normal" font-style="normal" text-anchor="start" >4</text>
<line x1="801.10" y1="210.25" x2="807.60" y2="210.25" stroke="#000" stroke-width="2.0"/>
<line x1="796.30" y1="159.70" x2="807.60" y2="159.70" stroke="#000" stroke-width="2.0"/>
<text x="776.51" y="169.00" font-size="29.3" font-weight="normal" font-style="normal" text-anchor="start" >6</text>
<line x1="801.10" y1="109.15" x2="807.60" y2="109.15" stroke="#000" stroke-width="2.0"/>
<line x1="796.30" y1="58.60" x2="807.60" y2="58.60" stroke="#000" stroke-width="2.0"/>
<text x="776.51" y="67.90" font-size="29.3" font-weight="normal" font-style="normal" text-anchor="start" >8</text>
<line x1="907.40" y1="463.00" x2="907.40" y2="474.50" stroke="#000" stroke-width="2.0"/>
<text x="887.81" y="502.60" font-size="28.5" font-weight="normal" font-style="normal" text-anchor="start" >6 h</text>
<line x1="1109.80" y1="463.00" x2="1109.80" y2="474.50" stroke="#000" stroke-width="2.0"/>
<text x="1081.94" y="503.00" font-size="28.5" font-weight="normal" font-style="normal" text-anchor="start" >12 h</text>
<line x1="1312.60" y1="463.00" x2="1312.60" y2="474.50" stroke="#000" stroke-width="2.0"/>
<text x="1285.10" y="503.30" font-size="28.5" font-weight="normal" font-style="normal" text-anchor="start" >24 h</text>
<text transform="translate(759.80,463.00) rotate(-90)" x="0" y="0" font-size="28.4" font-weight="bold" textLength="402.3" lengthAdjust="spacing">Fold change relative to control</text>
<text x="1041.04" y="29.00" font-size="34" font-weight="bold" font-style="normal" text-anchor="start" >intestine</text>
<text x="738.95" y="24.30" font-size="30" font-weight="bold" font-style="normal" text-anchor="start" >B</text>
<rect x="93.50" y="965.50" width="29.30" height="49.60" fill="#fff" stroke="#000" stroke-width="1.8"/>
<rect x="127.60" y="945.30" width="29.20" height="69.80" fill="url(#h13)" stroke="#000" stroke-width="1.8"/>
<rect x="161.30" y="788.10" width="29.50" height="227.00" fill="#a2a1a6" stroke="#000" stroke-width="1.8"/>
<rect x="195.40" y="910.40" width="29.70" height="104.70" fill="url(#c14)" stroke="#050808" stroke-width="1.8"/>
<rect x="228.90" y="924.40" width="31.10" height="90.70" fill="#060909"/>
<rect x="295.40" y="960.00" width="29.40" height="55.10" fill="#fff" stroke="#000" stroke-width="1.8"/>
<rect x="329.90" y="896.50" width="29.50" height="118.60" fill="url(#h15)" stroke="#000" stroke-width="1.8"/>
<rect x="364.10" y="944.20" width="29.40" height="70.90" fill="#a2a1a6" stroke="#000" stroke-width="1.8"/>
<rect x="398.00" y="858.70" width="29.40" height="156.40" fill="url(#c16)" stroke="#050808" stroke-width="1.8"/>
<rect x="431.00" y="949.40" width="31.60" height="65.70" fill="#060909"/>
<rect x="497.90" y="955.50" width="29.30" height="59.60" fill="#fff" stroke="#000" stroke-width="1.8"/>
<rect x="531.80" y="881.40" width="29.70" height="133.70" fill="url(#h17)" stroke="#000" stroke-width="1.8"/>
<rect x="566.20" y="974.60" width="28.90" height="40.50" fill="#a2a1a6" stroke="#000" stroke-width="1.8"/>
<rect x="600.40" y="964.90" width="29.30" height="50.20" fill="url(#c18)" stroke="#050808" stroke-width="1.8"/>
<rect x="633.20" y="956.20" width="31.80" height="58.90" fill="#060909"/>
<line x1="108.15" y1="965.10" x2="108.15" y2="950.90" stroke="#000" stroke-width="1.8"/>
<line x1="100.15" y1="950.90" x2="116.15" y2="950.90" stroke="#000" stroke-width="2.0"/>
<line x1="142.20" y1="944.90" x2="142.20" y2="925.60" stroke="#000" stroke-width="1.8"/>
<line x1="134.20" y1="925.60" x2="150.20" y2="925.60" stroke="#000" stroke-width="2.0"/>
<line x1="176.05" y1="787.70" x2="176.05" y2="724.50" stroke="#000" stroke-width="1.8"/>
<line x1="168.05" y1="724.50" x2="184.05" y2="724.50" stroke="#000" stroke-width="2.0"/>
<path d="M171.85,713.30L172.25,708.80A1.2,1.2 0 0 0 169.85,708.80L170.25,713.30ZM171.30,714.06L175.51,713.11A1.2,1.2 0 0 0 174.77,710.83L170.80,712.54ZM171.30,712.54L167.33,710.83A1.2,1.2 0 0 0 166.59,713.11L170.80,714.06ZM170.40,713.77L172.78,717.73A1.2,1.2 0 0 0 174.72,716.32L171.70,712.83ZM170.40,712.83L167.38,716.32A1.2,1.2 0 0 0 169.32,717.73L171.70,713.77ZM185.25,713.30L185.65,708.80A1.2,1.2 0 0 0 183.25,708.80L183.65,713.30ZM184.70,714.06L188.91,713.11A1.2,1.2 0 0 0 188.17,710.83L184.20,712.54ZM184.70,712.54L180.73,710.83A1.2,1.2 0 0 0 179.99,713.11L184.20,714.06ZM183.80,713.77L186.18,717.73A1.2,1.2 0 0 0 188.12,716.32L185.10,712.83ZM183.80,712.83L180.78,716.32A1.2,1.2 0 0 0 182.72,717.73L185.10,713.77Z" fill="#000"/>
<line x1="210.25" y1="910.00" x2="210.25" y2="895.20" stroke="#050808" stroke-width="1.8"/>
<line x1="202.25" y1="895.20" x2="218.25" y2="895.20" stroke="#050808" stroke-width="2.0"/>
<path d="M211.25,882.90L211.65,878.40A1.2,1.2 0 0 0 209.25,878.40L209.65,882.90ZM210.70,883.66L214.91,882.71A1.2,1.2 0 0 0 214.17,880.43L210.20,882.14ZM210.70,882.14L206.73,880.43A1.2,1.2 0 0 0 205.99,882.71L210.20,883.66ZM209.80,883.37L212.18,887.33A1.2,1.2 0 0 0 214.12,885.92L211.10,882.43ZM209.80,882.43L206.78,885.92A1.2,1.2 0 0 0 208.72,887.33L211.10,883.37Z" fill="#000"/>
<line x1="244.45" y1="924.90" x2="244.45" y2="911.80" stroke="#000" stroke-width="1.8"/>
<line x1="236.45" y1="911.80" x2="252.45" y2="911.80" stroke="#000" stroke-width="2.0"/>
<path d="M245.15,901.00L245.55,896.50A1.2,1.2 0 0 0 243.15,896.50L243.55,901.00ZM244.60,901.76L248.81,900.81A1.2,1.2 0 0 0 248.07,898.53L244.10,900.24ZM244.60,900.24L240.63,898.53A1.2,1.2 0 0 0 239.89,900.81L244.10,901.76ZM243.70,901.47L246.08,905.43A1.2,1.2 0 0 0 248.02,904.02L245.00,900.53ZM243.70,900.53L240.68,904.02A1.2,1.2 0 0 0 242.62,905.43L245.00,901.47Z" fill="#000"/>
<line x1="310.10" y1="959.60" x2="310.10" y2="946.70" stroke="#000" stroke-width="1.8"/>
<line x1="302.10" y1="946.70" x2="318.10" y2="946.70" stroke="#000" stroke-width="2.0"/>
<line x1="344.65" y1="896.10" x2="344.65" y2="875.10" stroke="#000" stroke-width="1.8"/>
<line x1="336.65" y1="875.10" x2="352.65" y2="875.10" stroke="#000" stroke-width="2.0"/>
<path d="M344.20,864.20L344.60,859.70A1.2,1.2 0 0 0 342.20,859.70L342.60,864.20ZM343.65,864.96L347.86,864.01A1.2,1.2 0 0 0 347.12,861.73L343.15,863.44ZM343.65,863.44L339.68,861.73A1.2,1.2 0 0 0 338.94,864.01L343.15,864.96ZM342.75,864.67L345.13,868.63A1.2,1.2 0 0 0 347.07,867.22L344.05,863.73ZM342.75,863.73L339.73,867.22A1.2,1.2 0 0 0 341.67,868.63L344.05,864.67Z" fill="#000"/>
<line x1="378.80" y1="943.80" x2="378.80" y2="933.60" stroke="#000" stroke-width="1.8"/>
<line x1="370.80" y1="933.60" x2="386.80" y2="933.60" stroke="#000" stroke-width="2.0"/>
<line x1="412.70" y1="858.30" x2="412.70" y2="827.00" stroke="#050808" stroke-width="1.8"/>
<line x1="404.70" y1="827.00" x2="420.70" y2="827.00" stroke="#050808" stroke-width="2.0"/>
<path d="M407.30,814.10L407.70,809.60A1.2,1.2 0 0 0 405.30,809.60L405.70,814.10ZM406.75,814.86L410.96,813.91A1.2,1.2 0 0 0 410.22,811.63L406.25,813.34ZM406.75,813.34L402.78,811.63A1.2,1.2 0 0 0 402.04,813.91L406.25,814.86ZM405.85,814.57L408.23,818.53A1.2,1.2 0 0 0 410.17,817.12L407.15,813.63ZM405.85,813.63L402.83,817.12A1.2,1.2 0 0 0 404.77,818.53L407.15,814.57ZM420.70,814.10L421.10,809.60A1.2,1.2 0 0 0 418.70,809.60L419.10,814.10ZM420.15,814.86L424.36,813.91A1.2,1.2 0 0 0 423.62,811.63L419.65,813.34ZM420.15,813.34L416.18,811.63A1.2,1.2 0 0 0 415.44,813.91L419.65,814.86ZM419.25,814.57L421.63,818.53A1.2,1.2 0 0 0 423.57,817.12L420.55,813.63ZM419.25,813.63L416.23,817.12A1.2,1.2 0 0 0 418.17,818.53L420.55,814.57Z" fill="#000"/>
<line x1="446.80" y1="949.90" x2="446.80" y2="936.50" stroke="#000" stroke-width="1.8"/>
<line x1="438.80" y1="936.50" x2="454.80" y2="936.50" stroke="#000" stroke-width="2.0"/>
<line x1="512.55" y1="955.10" x2="512.55" y2="942.50" stroke="#000" stroke-width="1.8"/>
<line x1="504.55" y1="942.50" x2="520.55" y2="942.50" stroke="#000" stroke-width="2.0"/>
<line x1="546.65" y1="881.00" x2="546.65" y2="874.00" stroke="#000" stroke-width="1.8"/>
<line x1="538.65" y1="874.00" x2="554.65" y2="874.00" stroke="#000" stroke-width="2.0"/>
<path d="M541.00,864.20L541.40,859.70A1.2,1.2 0 0 0 539.00,859.70L539.40,864.20ZM540.45,864.96L544.66,864.01A1.2,1.2 0 0 0 543.92,861.73L539.95,863.44ZM540.45,863.44L536.48,861.73A1.2,1.2 0 0 0 535.74,864.01L539.95,864.96ZM539.55,864.67L541.93,868.63A1.2,1.2 0 0 0 543.87,867.22L540.85,863.73ZM539.55,863.73L536.53,867.22A1.2,1.2 0 0 0 538.47,868.63L540.85,864.67ZM554.40,864.20L554.80,859.70A1.2,1.2 0 0 0 552.40,859.70L552.80,864.20ZM553.85,864.96L558.06,864.01A1.2,1.2 0 0 0 557.32,861.73L553.35,863.44ZM553.85,863.44L549.88,861.73A1.2,1.2 0 0 0 549.14,864.01L553.35,864.96ZM552.95,864.67L555.33,868.63A1.2,1.2 0 0 0 557.27,867.22L554.25,863.73ZM552.95,863.73L549.93,867.22A1.2,1.2 0 0 0 551.87,868.63L554.25,864.67Z" fill="#000"/>
<line x1="580.65" y1="974.20" x2="580.65" y2="966.70" stroke="#000" stroke-width="1.8"/>
<line x1="572.65" y1="966.70" x2="588.65" y2="966.70" stroke="#000" stroke-width="2.0"/>
<line x1="615.05" y1="964.50" x2="615.05" y2="955.90" stroke="#050808" stroke-width="1.8"/>
<line x1="607.05" y1="955.90" x2="623.05" y2="955.90" stroke="#050808" stroke-width="2.0"/>
<line x1="649.10" y1="956.70" x2="649.10" y2="943.80" stroke="#000" stroke-width="1.8"/>
<line x1="641.10" y1="943.80" x2="657.10" y2="943.80" stroke="#000" stroke-width="2.0"/>
<line x1="75.90" y1="610.00" x2="75.90" y2="1015.10" stroke="#000" stroke-width="2.0"/>
<line x1="65.10" y1="1015.10" x2="682.70" y2="1015.10" stroke="#000" stroke-width="2.0"/>
<line x1="65.10" y1="1015.10" x2="75.90" y2="1015.10" stroke="#000" stroke-width="2.0"/>
<text x="44.66" y="1024.40" font-size="29.3" font-weight="normal" font-style="normal" text-anchor="start" >0</text>
<line x1="69.90" y1="964.59" x2="75.90" y2="964.59" stroke="#000" stroke-width="2.0"/>
<line x1="65.10" y1="914.08" x2="75.90" y2="914.08" stroke="#000" stroke-width="2.0"/>
<text x="45.10" y="923.38" font-size="29.3" font-weight="normal" font-style="normal" text-anchor="start" >2</text>
<line x1="69.90" y1="863.56" x2="75.90" y2="863.56" stroke="#000" stroke-width="2.0"/>
<line x1="65.10" y1="813.05" x2="75.90" y2="813.05" stroke="#000" stroke-width="2.0"/>
<text x="44.52" y="822.35" font-size="29.3" font-weight="normal" font-style="normal" text-anchor="start" >4</text>
<line x1="69.90" y1="762.54" x2="75.90" y2="762.54" stroke="#000" stroke-width="2.0"/>
<line x1="65.10" y1="712.02" x2="75.90" y2="712.02" stroke="#000" stroke-width="2.0"/>
<text x="44.81" y="721.32" font-size="29.3" font-weight="normal" font-style="normal" text-anchor="start" >6</text>
<line x1="69.90" y1="661.51" x2="75.90" y2="661.51" stroke="#000" stroke-width="2.0"/>
<line x1="65.10" y1="611.00" x2="75.90" y2="611.00" stroke="#000" stroke-width="2.0"/>
<text x="44.81" y="620.30" font-size="29.3" font-weight="normal" font-style="normal" text-anchor="start" >8</text>
<line x1="175.60" y1="1015.10" x2="175.60" y2="1026.60" stroke="#000" stroke-width="2.0"/>
<text x="156.01" y="1051.50" font-size="28.5" font-weight="normal" font-style="normal" text-anchor="start" >6 h</text>
<line x1="377.70" y1="1015.10" x2="377.70" y2="1026.60" stroke="#000" stroke-width="2.0"/>
<text x="349.84" y="1051.70" font-size="28.5" font-weight="normal" font-style="normal" text-anchor="start" >12 h</text>
<line x1="580.50" y1="1015.10" x2="580.50" y2="1026.60" stroke="#000" stroke-width="2.0"/>
<text x="553.00" y="1051.70" font-size="28.5" font-weight="normal" font-style="normal" text-anchor="start" >24 h</text>
<text transform="translate(28.40,1015.40) rotate(-90)" x="0" y="0" font-size="28.4" font-weight="bold" textLength="402.2" lengthAdjust="spacing">Fold change relative to control</text>
<text x="325.12" y="576.80" font-size="34" font-weight="bold" font-style="normal" text-anchor="start" >spleen</text>
<text x="-0.10" y="576.40" font-size="30" font-weight="bold" font-style="normal" text-anchor="start" >C</text>
<rect x="825.10" y="945.40" width="29.60" height="69.70" fill="#fff" stroke="#000" stroke-width="1.8"/>
<rect x="859.70" y="742.00" width="28.80" height="273.10" fill="url(#h19)" stroke="#000" stroke-width="1.8"/>
<rect x="893.80" y="786.60" width="28.80" height="228.50" fill="#a2a1a6" stroke="#000" stroke-width="1.8"/>
<rect x="927.10" y="970.90" width="29.80" height="44.20" fill="url(#c20)" stroke="#050808" stroke-width="1.8"/>
<rect x="960.20" y="924.30" width="31.70" height="90.80" fill="#060909"/>
<rect x="1027.70" y="947.60" width="29.20" height="67.50" fill="#fff" stroke="#000" stroke-width="1.8"/>
<rect x="1061.40" y="857.60" width="29.50" height="157.50" fill="url(#h21)" stroke="#000" stroke-width="1.8"/>
<rect x="1095.50" y="847.50" width="29.60" height="167.60" fill="#a2a1a6" stroke="#000" stroke-width="1.8"/>
<rect x="1129.40" y="878.10" width="29.50" height="137.00" fill="url(#c22)" stroke="#050808" stroke-width="1.8"/>
<rect x="1162.20" y="880.40" width="31.80" height="134.70" fill="#060909"/>
<rect x="1229.60" y="947.50" width="29.20" height="67.60" fill="#fff" stroke="#000" stroke-width="1.8"/>
<rect x="1263.50" y="925.30" width="29.60" height="89.80" fill="url(#h23)" stroke="#000" stroke-width="1.8"/>
<rect x="1297.50" y="957.50" width="29.20" height="57.60" fill="#a2a1a6" stroke="#000" stroke-width="1.8"/>
<rect x="1331.90" y="888.70" width="29.90" height="126.40" fill="url(#c24)" stroke="#050808" stroke-width="1.8"/>
<rect x="1364.90" y="937.20" width="31.80" height="77.90" fill="#060909"/>
<line x1="839.90" y1="945.00" x2="839.90" y2="934.00" stroke="#000" stroke-width="1.8"/>
<line x1="831.90" y1="934.00" x2="847.90" y2="934.00" stroke="#000" stroke-width="2.0"/>
<line x1="874.10" y1="741.60" x2="874.10" y2="665.60" stroke="#000" stroke-width="1.8"/>
<line x1="866.10" y1="665.60" x2="882.10" y2="665.60" stroke="#000" stroke-width="2.0"/>
<path d="M867.20,654.00L867.60,649.50A1.2,1.2 0 0 0 865.20,649.50L865.60,654.00ZM866.65,654.76L870.86,653.81A1.2,1.2 0 0 0 870.12,651.53L866.15,653.24ZM866.65,653.24L862.68,651.53A1.2,1.2 0 0 0 861.94,653.81L866.15,654.76ZM865.75,654.47L868.13,658.43A1.2,1.2 0 0 0 870.07,657.02L867.05,653.53ZM865.75,653.53L862.73,657.02A1.2,1.2 0 0 0 864.67,658.43L867.05,654.47ZM880.60,654.00L881.00,649.50A1.2,1.2 0 0 0 878.60,649.50L879.00,654.00ZM880.05,654.76L884.26,653.81A1.2,1.2 0 0 0 883.52,651.53L879.55,653.24ZM880.05,653.24L876.08,651.53A1.2,1.2 0 0 0 875.34,653.81L879.55,654.76ZM879.15,654.47L881.53,658.43A1.2,1.2 0 0 0 883.47,657.02L880.45,653.53ZM879.15,653.53L876.13,657.02A1.2,1.2 0 0 0 878.07,658.43L880.45,654.47Z" fill="#000"/>
<line x1="908.20" y1="786.20" x2="908.20" y2="747.10" stroke="#000" stroke-width="1.8"/>
<line x1="900.20" y1="747.10" x2="916.20" y2="747.10" stroke="#000" stroke-width="2.0"/>
<path d="M905.00,736.40L905.40,731.90A1.2,1.2 0 0 0 903.00,731.90L903.40,736.40ZM904.45,737.16L908.66,736.21A1.2,1.2 0 0 0 907.92,733.93L903.95,735.64ZM904.45,735.64L900.48,733.93A1.2,1.2 0 0 0 899.74,736.21L903.95,737.16ZM903.55,736.87L905.93,740.83A1.2,1.2 0 0 0 907.87,739.42L904.85,735.93ZM903.55,735.93L900.53,739.42A1.2,1.2 0 0 0 902.47,740.83L904.85,736.87ZM918.40,736.40L918.80,731.90A1.2,1.2 0 0 0 916.40,731.90L916.80,736.40ZM917.85,737.16L922.06,736.21A1.2,1.2 0 0 0 921.32,733.93L917.35,735.64ZM917.85,735.64L913.88,733.93A1.2,1.2 0 0 0 913.14,736.21L917.35,737.16ZM916.95,736.87L919.33,740.83A1.2,1.2 0 0 0 921.27,739.42L918.25,735.93ZM916.95,735.93L913.93,739.42A1.2,1.2 0 0 0 915.87,740.83L918.25,736.87Z" fill="#000"/>
<line x1="942.00" y1="970.50" x2="942.00" y2="960.00" stroke="#050808" stroke-width="1.8"/>
<line x1="934.00" y1="960.00" x2="950.00" y2="960.00" stroke="#050808" stroke-width="2.0"/>
<line x1="976.05" y1="924.80" x2="976.05" y2="918.00" stroke="#000" stroke-width="1.8"/>
<line x1="968.05" y1="918.00" x2="984.05" y2="918.00" stroke="#000" stroke-width="2.0"/>
<line x1="1042.30" y1="947.20" x2="1042.30" y2="939.70" stroke="#000" stroke-width="1.8"/>
<line x1="1034.30" y1="939.70" x2="1050.30" y2="939.70" stroke="#000" stroke-width="2.0"/>
<line x1="1076.15" y1="857.20" x2="1076.15" y2="839.60" stroke="#000" stroke-width="1.8"/>
<line x1="1068.15" y1="839.60" x2="1084.15" y2="839.60" stroke="#000" stroke-width="2.0"/>
<path d="M1070.65,828.80L1071.05,824.30A1.2,1.2 0 0 0 1068.65,824.30L1069.05,828.80ZM1070.10,829.56L1074.31,828.61A1.2,1.2 0 0 0 1073.57,826.33L1069.60,828.04ZM1070.10,828.04L1066.13,826.33A1.2,1.2 0 0 0 1065.39,828.61L1069.60,829.56ZM1069.20,829.27L1071.58,833.23A1.2,1.2 0 0 0 1073.52,831.82L1070.50,828.33ZM1069.20,828.33L1066.18,831.82A1.2,1.2 0 0 0 1068.12,833.23L1070.50,829.27ZM1084.05,828.80L1084.45,824.30A1.2,1.2 0 0 0 1082.05,824.30L1082.45,828.80ZM1083.50,829.56L1087.71,828.61A1.2,1.2 0 0 0 1086.97,826.33L1083.00,828.04ZM1083.50,828.04L1079.53,826.33A1.2,1.2 0 0 0 1078.79,828.61L1083.00,829.56ZM1082.60,829.27L1084.98,833.23A1.2,1.2 0 0 0 1086.92,831.82L1083.90,828.33ZM1082.60,828.33L1079.58,831.82A1.2,1.2 0 0 0 1081.52,833.23L1083.90,829.27Z" fill="#000"/>
<line x1="1110.30" y1="847.10" x2="1110.30" y2="824.80" stroke="#000" stroke-width="1.8"/>
<line x1="1102.30" y1="824.80" x2="1118.30" y2="824.80" stroke="#000" stroke-width="2.0"/>
<path d="M1104.25,815.90L1104.65,811.40A1.2,1.2 0 0 0 1102.25,811.40L1102.65,815.90ZM1103.70,816.66L1107.91,815.71A1.2,1.2 0 0 0 1107.17,813.43L1103.20,815.14ZM1103.70,815.14L1099.73,813.43A1.2,1.2 0 0 0 1098.99,815.71L1103.20,816.66ZM1102.80,816.37L1105.18,820.33A1.2,1.2 0 0 0 1107.12,818.92L1104.10,815.43ZM1102.80,815.43L1099.78,818.92A1.2,1.2 0 0 0 1101.72,820.33L1104.10,816.37ZM1117.65,815.90L1118.05,811.40A1.2,1.2 0 0 0 1115.65,811.40L1116.05,815.90ZM1117.10,816.66L1121.31,815.71A1.2,1.2 0 0 0 1120.57,813.43L1116.60,815.14ZM1117.10,815.14L1113.13,813.43A1.2,1.2 0 0 0 1112.39,815.71L1116.60,816.66ZM1116.20,816.37L1118.58,820.33A1.2,1.2 0 0 0 1120.52,818.92L1117.50,815.43ZM1116.20,815.43L1113.18,818.92A1.2,1.2 0 0 0 1115.12,820.33L1117.50,816.37Z" fill="#000"/>
<line x1="1144.15" y1="877.70" x2="1144.15" y2="860.90" stroke="#050808" stroke-width="1.8"/>
<line x1="1136.15" y1="860.90" x2="1152.15" y2="860.90" stroke="#050808" stroke-width="2.0"/>
<path d="M1140.40,854.00L1140.80,849.50A1.2,1.2 0 0 0 1138.40,849.50L1138.80,854.00ZM1139.85,854.76L1144.06,853.81A1.2,1.2 0 0 0 1143.32,851.53L1139.35,853.24ZM1139.85,853.24L1135.88,851.53A1.2,1.2 0 0 0 1135.14,853.81L1139.35,854.76ZM1138.95,854.47L1141.33,858.43A1.2,1.2 0 0 0 1143.27,857.02L1140.25,853.53ZM1138.95,853.53L1135.93,857.02A1.2,1.2 0 0 0 1137.87,858.43L1140.25,854.47ZM1153.80,854.00L1154.20,849.50A1.2,1.2 0 0 0 1151.80,849.50L1152.20,854.00ZM1153.25,854.76L1157.46,853.81A1.2,1.2 0 0 0 1156.72,851.53L1152.75,853.24ZM1153.25,853.24L1149.28,851.53A1.2,1.2 0 0 0 1148.54,853.81L1152.75,854.76ZM1152.35,854.47L1154.73,858.43A1.2,1.2 0 0 0 1156.67,857.02L1153.65,853.53ZM1152.35,853.53L1149.33,857.02A1.2,1.2 0 0 0 1151.27,858.43L1153.65,854.47Z" fill="#000"/>
<line x1="1178.10" y1="880.90" x2="1178.10" y2="861.30" stroke="#000" stroke-width="1.8"/>
<line x1="1170.10" y1="861.30" x2="1186.10" y2="861.30" stroke="#000" stroke-width="2.0"/>
<path d="M1173.15,851.00L1173.55,846.50A1.2,1.2 0 0 0 1171.15,846.50L1171.55,851.00ZM1172.60,851.76L1176.81,850.81A1.2,1.2 0 0 0 1176.07,848.53L1172.10,850.24ZM1172.60,850.24L1168.63,848.53A1.2,1.2 0 0 0 1167.89,850.81L1172.10,851.76ZM1171.70,851.47L1174.08,855.43A1.2,1.2 0 0 0 1176.02,854.02L1173.00,850.53ZM1171.70,850.53L1168.68,854.02A1.2,1.2 0 0 0 1170.62,855.43L1173.00,851.47ZM1186.55,851.00L1186.95,846.50A1.2,1.2 0 0 0 1184.55,846.50L1184.95,851.00ZM1186.00,851.76L1190.21,850.81A1.2,1.2 0 0 0 1189.47,848.53L1185.50,850.24ZM1186.00,850.24L1182.03,848.53A1.2,1.2 0 0 0 1181.29,850.81L1185.50,851.76ZM1185.10,851.47L1187.48,855.43A1.2,1.2 0 0 0 1189.42,854.02L1186.40,850.53ZM1185.10,850.53L1182.08,854.02A1.2,1.2 0 0 0 1184.02,855.43L1186.40,851.47Z" fill="#000"/>
<line x1="1244.20" y1="947.10" x2="1244.20" y2="939.00" stroke="#000" stroke-width="1.8"/>
<line x1="1236.20" y1="939.00" x2="1252.20" y2="939.00" stroke="#000" stroke-width="2.0"/>
<line x1="1278.30" y1="924.90" x2="1278.30" y2="913.00" stroke="#000" stroke-width="1.8"/>
<line x1="1270.30" y1="913.00" x2="1286.30" y2="913.00" stroke="#000" stroke-width="2.0"/>
<line x1="1312.10" y1="957.10" x2="1312.10" y2="949.90" stroke="#000" stroke-width="1.8"/>
<line x1="1304.10" y1="949.90" x2="1320.10" y2="949.90" stroke="#000" stroke-width="2.0"/>
<line x1="1346.85" y1="888.30" x2="1346.85" y2="879.00" stroke="#050808" stroke-width="1.8"/>
<line x1="1338.85" y1="879.00" x2="1354.85" y2="879.00" stroke="#050808" stroke-width="2.0"/>
<path d="M1341.20,870.00L1341.60,865.50A1.2,1.2 0 0 0 1339.20,865.50L1339.60,870.00ZM1340.65,870.76L1344.86,869.81A1.2,1.2 0 0 0 1344.12,867.53L1340.15,869.24ZM1340.65,869.24L1336.68,867.53A1.2,1.2 0 0 0 1335.94,869.81L1340.15,870.76ZM1339.75,870.47L1342.13,874.43A1.2,1.2 0 0 0 1344.07,873.02L1341.05,869.53ZM1339.75,869.53L1336.73,873.02A1.2,1.2 0 0 0 1338.67,874.43L1341.05,870.47ZM1354.60,870.00L1355.00,865.50A1.2,1.2 0 0 0 1352.60,865.50L1353.00,870.00ZM1354.05,870.76L1358.26,869.81A1.2,1.2 0 0 0 1357.52,867.53L1353.55,869.24ZM1354.05,869.24L1350.08,867.53A1.2,1.2 0 0 0 1349.34,869.81L1353.55,870.76ZM1353.15,870.47L1355.53,874.43A1.2,1.2 0 0 0 1357.47,873.02L1354.45,869.53ZM1353.15,869.53L1350.13,873.02A1.2,1.2 0 0 0 1352.07,874.43L1354.45,870.47Z" fill="#000"/>
<line x1="1380.80" y1="937.70" x2="1380.80" y2="922.50" stroke="#000" stroke-width="1.8"/>
<line x1="1372.80" y1="922.50" x2="1388.80" y2="922.50" stroke="#000" stroke-width="2.0"/>
<line x1="807.60" y1="610.00" x2="807.60" y2="1015.10" stroke="#000" stroke-width="2.0"/>
<line x1="796.30" y1="1015.10" x2="1414.50" y2="1015.10" stroke="#000" stroke-width="2.0"/>
<line x1="796.30" y1="1015.10" x2="807.60" y2="1015.10" stroke="#000" stroke-width="2.0"/>
<text x="776.36" y="1024.40" font-size="29.3" font-weight="normal" font-style="normal" text-anchor="start" >0</text>
<line x1="801.10" y1="947.75" x2="807.60" y2="947.75" stroke="#000" stroke-width="2.0"/>
<line x1="796.30" y1="880.40" x2="807.60" y2="880.40" stroke="#000" stroke-width="2.0"/>
<text x="776.80" y="889.70" font-size="29.3" font-weight="normal" font-style="normal" text-anchor="start" >2</text>
<line x1="801.10" y1="813.05" x2="807.60" y2="813.05" stroke="#000" stroke-width="2.0"/>
<line x1="796.30" y1="745.70" x2="807.60" y2="745.70" stroke="#000" stroke-width="2.0"/>
<text x="776.22" y="755.00" font-size="29.3" font-weight="normal" font-style="normal" text-anchor="start" >4</text>
<line x1="801.10" y1="678.35" x2="807.60" y2="678.35" stroke="#000" stroke-width="2.0"/>
<line x1="796.30" y1="611.00" x2="807.60" y2="611.00" stroke="#000" stroke-width="2.0"/>
<text x="776.51" y="620.30" font-size="29.3" font-weight="normal" font-style="normal" text-anchor="start" >6</text>
<line x1="908.00" y1="1015.10" x2="908.00" y2="1026.60" stroke="#000" stroke-width="2.0"/>
<text x="888.41" y="1071.70" font-size="28.5" font-weight="normal" font-style="normal" text-anchor="start" >6 h</text>
<line x1="1110.10" y1="1015.10" x2="1110.10" y2="1026.60" stroke="#000" stroke-width="2.0"/>
<text x="1082.24" y="1067.80" font-size="28.5" font-weight="normal" font-style="normal" text-anchor="start" >12 h</text>
<line x1="1312.30" y1="1015.10" x2="1312.30" y2="1026.60" stroke="#000" stroke-width="2.0"/>
<text x="1284.80" y="1055.00" font-size="28.5" font-weight="normal" font-style="normal" text-anchor="start" >24 h</text>
<text transform="translate(759.80,1015.30) rotate(-90)" x="0" y="0" font-size="28.4" font-weight="bold" textLength="402.0" lengthAdjust="spacing">Fold change relative to control</text>
<text x="1012.38" y="576.00" font-size="34" font-weight="bold" font-style="normal" text-anchor="start" >head kidney</text>
<text x="738.95" y="576.40" font-size="30" font-weight="bold" font-style="normal" text-anchor="start" >D</text>
<rect x="95.50" y="1514.90" width="29.60" height="52.50" fill="#fff" stroke="#000" stroke-width="1.8"/>
<rect x="129.60" y="1426.00" width="29.20" height="141.40" fill="url(#h25)" stroke="#000" stroke-width="1.8"/>
<rect x="163.50" y="1385.00" width="29.40" height="182.40" fill="#a2a1a6" stroke="#000" stroke-width="1.8"/>
<rect x="197.60" y="1509.20" width="29.40" height="58.20" fill="url(#c26)" stroke="#050808" stroke-width="1.8"/>
<rect x="230.70" y="1529.10" width="31.40" height="38.30" fill="#060909"/>
<rect x="297.80" y="1513.20" width="29.80" height="54.20" fill="#fff" stroke="#000" stroke-width="1.8"/>
<rect x="332.10" y="1381.20" width="29.10" height="186.20" fill="url(#h27)" stroke="#000" stroke-width="1.8"/>
<rect x="365.90" y="1515.80" width="29.50" height="51.60" fill="#a2a1a6" stroke="#000" stroke-width="1.8"/>
<rect x="399.60" y="1294.60" width="30.00" height="272.80" fill="url(#c28)" stroke="#050808" stroke-width="1.8"/>
<rect x="432.80" y="1472.50" width="31.80" height="94.90" fill="#060909"/>
<rect x="499.50" y="1515.50" width="29.60" height="51.90" fill="#fff" stroke="#000" stroke-width="1.8"/>
<rect x="533.70" y="1496.60" width="29.70" height="70.80" fill="url(#h29)" stroke="#000" stroke-width="1.8"/>
<rect x="568.30" y="1481.50" width="29.30" height="85.90" fill="#a2a1a6" stroke="#000" stroke-width="1.8"/>
<rect x="602.30" y="1536.20" width="29.40" height="31.20" fill="url(#c30)" stroke="#050808" stroke-width="1.8"/>
<rect x="635.30" y="1530.60" width="31.80" height="36.80" fill="#060909"/>
<line x1="110.30" y1="1514.50" x2="110.30" y2="1503.10" stroke="#000" stroke-width="1.8"/>
<line x1="102.30" y1="1503.10" x2="118.30" y2="1503.10" stroke="#000" stroke-width="2.0"/>
<line x1="144.20" y1="1425.60" x2="144.20" y2="1410.10" stroke="#000" stroke-width="1.8"/>
<line x1="136.20" y1="1410.10" x2="152.20" y2="1410.10" stroke="#000" stroke-width="2.0"/>
<path d="M140.15,1402.00L140.55,1397.50A1.2,1.2 0 0 0 138.15,1397.50L138.55,1402.00ZM139.60,1402.76L143.81,1401.81A1.2,1.2 0 0 0 143.07,1399.53L139.10,1401.24ZM139.60,1401.24L135.63,1399.53A1.2,1.2 0 0 0 134.89,1401.81L139.10,1402.76ZM138.70,1402.47L141.08,1406.43A1.2,1.2 0 0 0 143.02,1405.02L140.00,1401.53ZM138.70,1401.53L135.68,1405.02A1.2,1.2 0 0 0 137.62,1406.43L140.00,1402.47ZM153.55,1402.00L153.95,1397.50A1.2,1.2 0 0 0 151.55,1397.50L151.95,1402.00ZM153.00,1402.76L157.21,1401.81A1.2,1.2 0 0 0 156.47,1399.53L152.50,1401.24ZM153.00,1401.24L149.03,1399.53A1.2,1.2 0 0 0 148.29,1401.81L152.50,1402.76ZM152.10,1402.47L154.48,1406.43A1.2,1.2 0 0 0 156.42,1405.02L153.40,1401.53ZM152.10,1401.53L149.08,1405.02A1.2,1.2 0 0 0 151.02,1406.43L153.40,1402.47Z" fill="#000"/>
<line x1="178.20" y1="1384.60" x2="178.20" y2="1368.70" stroke="#000" stroke-width="1.8"/>
<line x1="170.20" y1="1368.70" x2="186.20" y2="1368.70" stroke="#000" stroke-width="2.0"/>
<path d="M172.75,1357.10L173.15,1352.60A1.2,1.2 0 0 0 170.75,1352.60L171.15,1357.10ZM172.20,1357.86L176.41,1356.91A1.2,1.2 0 0 0 175.67,1354.63L171.70,1356.34ZM172.20,1356.34L168.23,1354.63A1.2,1.2 0 0 0 167.49,1356.91L171.70,1357.86ZM171.30,1357.57L173.68,1361.53A1.2,1.2 0 0 0 175.62,1360.12L172.60,1356.63ZM171.30,1356.63L168.28,1360.12A1.2,1.2 0 0 0 170.22,1361.53L172.60,1357.57ZM186.15,1357.10L186.55,1352.60A1.2,1.2 0 0 0 184.15,1352.60L184.55,1357.10ZM185.60,1357.86L189.81,1356.91A1.2,1.2 0 0 0 189.07,1354.63L185.10,1356.34ZM185.60,1356.34L181.63,1354.63A1.2,1.2 0 0 0 180.89,1356.91L185.10,1357.86ZM184.70,1357.57L187.08,1361.53A1.2,1.2 0 0 0 189.02,1360.12L186.00,1356.63ZM184.70,1356.63L181.68,1360.12A1.2,1.2 0 0 0 183.62,1361.53L186.00,1357.57Z" fill="#000"/>
<line x1="212.30" y1="1508.80" x2="212.30" y2="1496.00" stroke="#050808" stroke-width="1.8"/>
<line x1="204.30" y1="1496.00" x2="220.30" y2="1496.00" stroke="#050808" stroke-width="2.0"/>
<line x1="246.40" y1="1529.60" x2="246.40" y2="1512.70" stroke="#000" stroke-width="1.8"/>
<line x1="238.40" y1="1512.70" x2="254.40" y2="1512.70" stroke="#000" stroke-width="2.0"/>
<line x1="312.70" y1="1512.80" x2="312.70" y2="1499.80" stroke="#000" stroke-width="1.8"/>
<line x1="304.70" y1="1499.80" x2="320.70" y2="1499.80" stroke="#000" stroke-width="2.0"/>
<line x1="346.65" y1="1380.80" x2="346.65" y2="1350.30" stroke="#000" stroke-width="1.8"/>
<line x1="338.65" y1="1350.30" x2="354.65" y2="1350.30" stroke="#000" stroke-width="2.0"/>
<path d="M341.20,1339.10L341.60,1334.60A1.2,1.2 0 0 0 339.20,1334.60L339.60,1339.10ZM340.65,1339.86L344.86,1338.91A1.2,1.2 0 0 0 344.12,1336.63L340.15,1338.34ZM340.65,1338.34L336.68,1336.63A1.2,1.2 0 0 0 335.94,1338.91L340.15,1339.86ZM339.75,1339.57L342.13,1343.53A1.2,1.2 0 0 0 344.07,1342.12L341.05,1338.63ZM339.75,1338.63L336.73,1342.12A1.2,1.2 0 0 0 338.67,1343.53L341.05,1339.57ZM354.60,1339.10L355.00,1334.60A1.2,1.2 0 0 0 352.60,1334.60L353.00,1339.10ZM354.05,1339.86L358.26,1338.91A1.2,1.2 0 0 0 357.52,1336.63L353.55,1338.34ZM354.05,1338.34L350.08,1336.63A1.2,1.2 0 0 0 349.34,1338.91L353.55,1339.86ZM353.15,1339.57L355.53,1343.53A1.2,1.2 0 0 0 357.47,1342.12L354.45,1338.63ZM353.15,1338.63L350.13,1342.12A1.2,1.2 0 0 0 352.07,1343.53L354.45,1339.57Z" fill="#000"/>
<line x1="380.65" y1="1515.40" x2="380.65" y2="1510.20" stroke="#000" stroke-width="1.8"/>
<line x1="372.65" y1="1510.20" x2="388.65" y2="1510.20" stroke="#000" stroke-width="2.0"/>
<line x1="414.60" y1="1294.20" x2="414.60" y2="1261.90" stroke="#050808" stroke-width="1.8"/>
<line x1="406.60" y1="1261.90" x2="422.60" y2="1261.90" stroke="#050808" stroke-width="2.0"/>
<path d="M409.05,1250.20L409.45,1245.70A1.2,1.2 0 0 0 407.05,1245.70L407.45,1250.20ZM408.50,1250.96L412.71,1250.01A1.2,1.2 0 0 0 411.97,1247.73L408.00,1249.44ZM408.50,1249.44L404.53,1247.73A1.2,1.2 0 0 0 403.79,1250.01L408.00,1250.96ZM407.60,1250.67L409.98,1254.63A1.2,1.2 0 0 0 411.92,1253.22L408.90,1249.73ZM407.60,1249.73L404.58,1253.22A1.2,1.2 0 0 0 406.52,1254.63L408.90,1250.67ZM422.45,1250.20L422.85,1245.70A1.2,1.2 0 0 0 420.45,1245.70L420.85,1250.20ZM421.90,1250.96L426.11,1250.01A1.2,1.2 0 0 0 425.37,1247.73L421.40,1249.44ZM421.90,1249.44L417.93,1247.73A1.2,1.2 0 0 0 417.19,1250.01L421.40,1250.96ZM421.00,1250.67L423.38,1254.63A1.2,1.2 0 0 0 425.32,1253.22L422.30,1249.73ZM421.00,1249.73L417.98,1253.22A1.2,1.2 0 0 0 419.92,1254.63L422.30,1250.67Z" fill="#000"/>
<line x1="448.70" y1="1473.00" x2="448.70" y2="1452.10" stroke="#000" stroke-width="1.8"/>
<line x1="440.70" y1="1452.10" x2="456.70" y2="1452.10" stroke="#000" stroke-width="2.0"/>
<path d="M448.80,1442.00L449.20,1437.50A1.2,1.2 0 0 0 446.80,1437.50L447.20,1442.00ZM448.25,1442.76L452.46,1441.81A1.2,1.2 0 0 0 451.72,1439.53L447.75,1441.24ZM448.25,1441.24L444.28,1439.53A1.2,1.2 0 0 0 443.54,1441.81L447.75,1442.76ZM447.35,1442.47L449.73,1446.43A1.2,1.2 0 0 0 451.67,1445.02L448.65,1441.53ZM447.35,1441.53L444.33,1445.02A1.2,1.2 0 0 0 446.27,1446.43L448.65,1442.47Z" fill="#000"/>
<line x1="514.30" y1="1515.10" x2="514.30" y2="1506.50" stroke="#000" stroke-width="1.8"/>
<line x1="506.30" y1="1506.50" x2="522.30" y2="1506.50" stroke="#000" stroke-width="2.0"/>
<line x1="548.55" y1="1496.20" x2="548.55" y2="1482.80" stroke="#000" stroke-width="1.8"/>
<line x1="540.55" y1="1482.80" x2="556.55" y2="1482.80" stroke="#000" stroke-width="2.0"/>
<line x1="582.95" y1="1481.10" x2="582.95" y2="1443.20" stroke="#000" stroke-width="1.8"/>
<line x1="574.95" y1="1443.20" x2="590.95" y2="1443.20" stroke="#000" stroke-width="2.0"/>
<line x1="617.00" y1="1535.80" x2="617.00" y2="1524.10" stroke="#050808" stroke-width="1.8"/>
<line x1="609.00" y1="1524.10" x2="625.00" y2="1524.10" stroke="#050808" stroke-width="2.0"/>
<line x1="651.20" y1="1531.10" x2="651.20" y2="1526.40" stroke="#000" stroke-width="1.8"/>
<line x1="643.20" y1="1526.40" x2="659.20" y2="1526.40" stroke="#000" stroke-width="2.0"/>
<line x1="77.80" y1="1162.00" x2="77.80" y2="1567.40" stroke="#000" stroke-width="2.0"/>
<line x1="67.20" y1="1567.40" x2="684.90" y2="1567.40" stroke="#000" stroke-width="2.0"/>
<line x1="67.20" y1="1567.40" x2="77.80" y2="1567.40" stroke="#000" stroke-width="2.0"/>
<text x="46.56" y="1576.70" font-size="29.3" font-weight="normal" font-style="normal" text-anchor="start" >0</text>
<line x1="72.20" y1="1516.85" x2="77.80" y2="1516.85" stroke="#000" stroke-width="2.0"/>
<line x1="67.20" y1="1466.30" x2="77.80" y2="1466.30" stroke="#000" stroke-width="2.0"/>
<text x="47.00" y="1475.60" font-size="29.3" font-weight="normal" font-style="normal" text-anchor="start" >2</text>
<line x1="72.20" y1="1415.75" x2="77.80" y2="1415.75" stroke="#000" stroke-width="2.0"/>
<line x1="67.20" y1="1365.20" x2="77.80" y2="1365.20" stroke="#000" stroke-width="2.0"/>
<text x="46.42" y="1374.50" font-size="29.3" font-weight="normal" font-style="normal" text-anchor="start" >4</text>
<line x1="72.20" y1="1314.65" x2="77.80" y2="1314.65" stroke="#000" stroke-width="2.0"/>
<line x1="67.20" y1="1264.10" x2="77.80" y2="1264.10" stroke="#000" stroke-width="2.0"/>
<text x="46.71" y="1273.40" font-size="29.3" font-weight="normal" font-style="normal" text-anchor="start" >6</text>
<line x1="72.20" y1="1213.55" x2="77.80" y2="1213.55" stroke="#000" stroke-width="2.0"/>
<line x1="67.20" y1="1163.00" x2="77.80" y2="1163.00" stroke="#000" stroke-width="2.0"/>
<text x="46.71" y="1172.30" font-size="29.3" font-weight="normal" font-style="normal" text-anchor="start" >8</text>
<line x1="177.80" y1="1567.40" x2="177.80" y2="1578.90" stroke="#000" stroke-width="2.0"/>
<text x="158.21" y="1606.70" font-size="28.5" font-weight="normal" font-style="normal" text-anchor="start" >6 h</text>
<line x1="380.30" y1="1567.40" x2="380.30" y2="1578.90" stroke="#000" stroke-width="2.0"/>
<text x="352.44" y="1606.40" font-size="28.5" font-weight="normal" font-style="normal" text-anchor="start" >12 h</text>
<line x1="582.50" y1="1567.40" x2="582.50" y2="1578.90" stroke="#000" stroke-width="2.0"/>
<text x="555.00" y="1606.40" font-size="28.5" font-weight="normal" font-style="normal" text-anchor="start" >24 h</text>
<text transform="translate(27.10,1567.40) rotate(-90)" x="0" y="0" font-size="28.4" font-weight="bold" textLength="402.0" lengthAdjust="spacing">Fold change relative to control</text>
<text x="334.51" y="1123.70" font-size="34" font-weight="bold" font-style="normal" text-anchor="start" >blood</text>
<text x="-0.05" y="1107.70" font-size="30" font-weight="bold" font-style="normal" text-anchor="start" >E</text>
<rect x="813.10" y="1157.40" width="40.90" height="9.80" fill="#fff" stroke="#000" stroke-width="1.8"/>
<text x="878.73" y="1171.80" font-size="25.5" font-weight="normal" font-style="normal" text-anchor="start" >Control</text>
<rect x="813.10" y="1189.30" width="40.90" height="10.10" fill="url(#h31)" stroke="#000" stroke-width="1.8"/>
<text x="878.34" y="1203.50" font-size="25.5" font-weight="normal" font-style="normal" text-anchor="start" >poly I:C</text>
<rect x="813.10" y="1223.40" width="40.90" height="9.90" fill="#a2a1a6" stroke="#000" stroke-width="1.8"/>
<text x="877.96" y="1237.60" font-size="25.5" font-weight="normal" font-style="normal" text-anchor="start" >LPS</text>
<rect x="811.90" y="1257.70" width="40.90" height="10.10" fill="url(#c32)" stroke="#000" stroke-width="1.8"/>
<text x="876.76" y="1271.50" font-size="25.5" font-weight="normal" font-style="normal" text-anchor="start" >PGN</text>
<rect x="810.00" y="1293.00" width="43.20" height="11.90" fill="#060909"/>
<text x="877.53" y="1307.30" font-size="25.5" font-weight="normal" font-style="italic" text-anchor="start" >P. plecoglossicida</text>
</svg>
</body></html>
